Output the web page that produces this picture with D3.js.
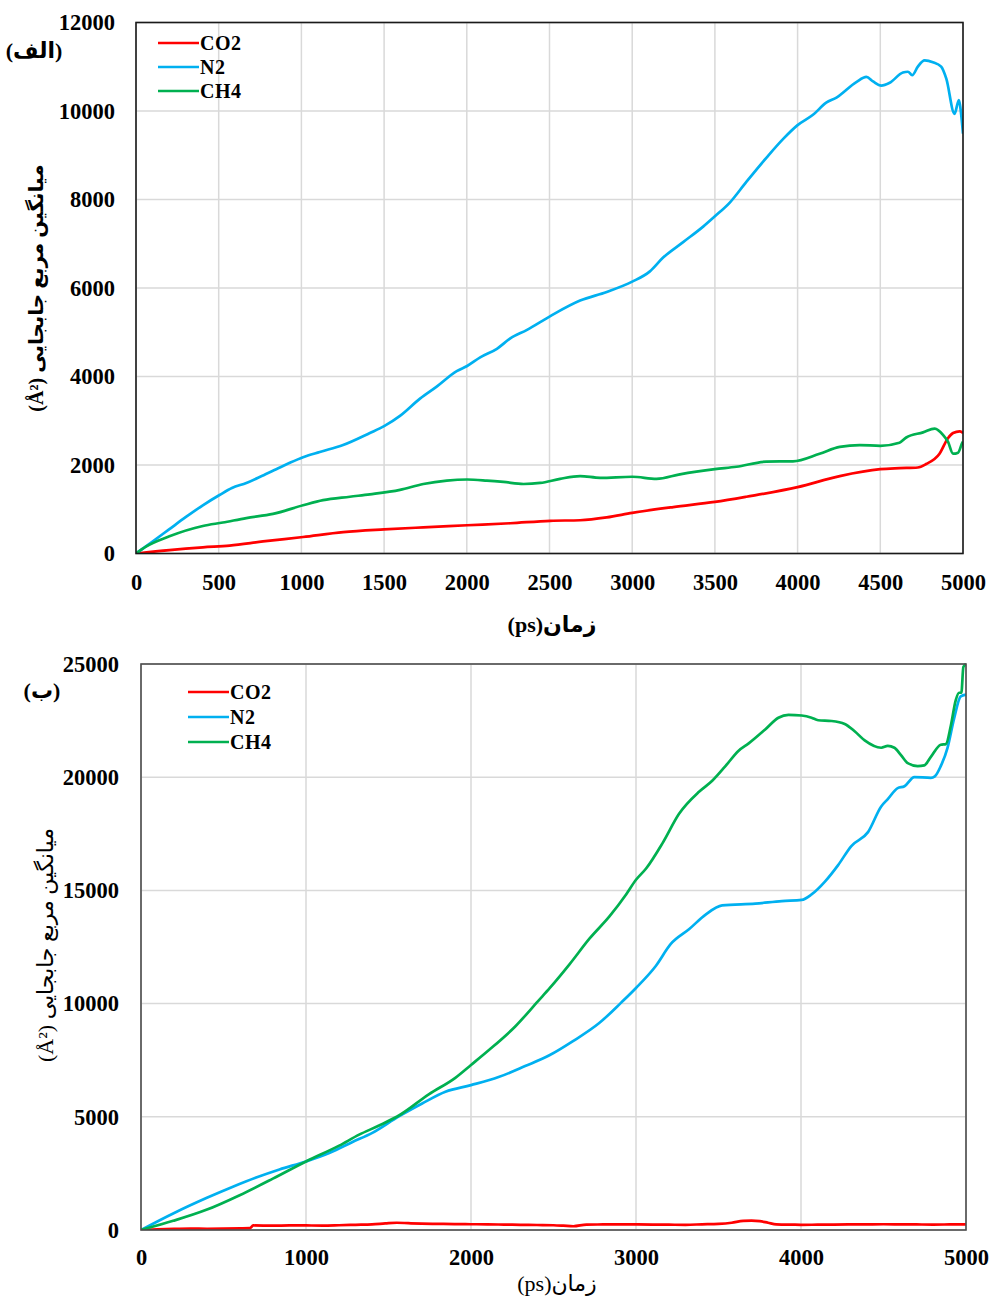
<!DOCTYPE html>
<html>
<head>
<meta charset="utf-8">
<script src="https://cdn.jsdelivr.net/npm/d3@7"></script>
<style>
  html, body { margin: 0; padding: 0; background: #ffffff; }
  svg { display: block; }
  text { font-family: "Liberation Serif", "DejaVu Sans", serif; fill: #000; }
</style>
</head>
<body>
<svg id="chart" width="992" height="1298"></svg>
<script>
// Tick values for both panels
const timeTicksA = [0, 500, 1000, 1500, 2000, 2500, 3000, 3500, 4000, 4500, 5000];
const msdTicksA = [0, 2000, 4000, 6000, 8000, 10000, 12000];
const timeTicksB = [0, 1000, 2000, 3000, 4000, 5000];
const msdTicksB = [0, 5000, 10000, 15000, 20000, 25000];

const seriesNames = ["CO2", "N2", "CH4"];
const seriesColors = ["#ff0000", "#00b0f0", "#00b050"];

// Panel (الف): [time ps, MSD Å²]
const co2A = [[0,0],[202,78],[404,140],[566,179],[768,272],[1010,373],[1253,482],[1500,544],[1737,591],[2002,638],[2263,684],[2505,739],[2685,752],[2846,816],[3000,918],[3248,1050],[3500,1166],[3690,1283],[4000,1500],[4255,1750],[4500,1905],[4616,1928],[4727,1944],[4777,2022],[4858,2255],[4909,2605],[4940,2722],[4980,2760],[5000,2722]];
const n2A = [[0,0],[100,270],[200,545],[300,820],[404,1089],[505,1322],[580,1480],[667,1594],[760,1750],[848,1905],[930,2050],[1010,2177],[1111,2294],[1252,2450],[1414,2722],[1500,2877],[1596,3110],[1717,3500],[1818,3772],[1939,4121],[2002,4238],[2081,4432],[2182,4627],[2263,4860],[2364,5054],[2505,5365],[2685,5715],[2846,5910],[3000,6143],[3107,6376],[3187,6687],[3308,7037],[3429,7387],[3500,7620],[3590,7931],[3690,8398],[3811,8942],[3913,9370],[4000,9681],[4093,9914],[4173,10187],[4235,10303],[4355,10653],[4416,10770],[4456,10669],[4506,10575],[4557,10638],[4637,10871],[4667,10887],[4693,10809],[4727,11003],[4768,11143],[4818,11104],[4868,11003],[4899,10731],[4949,9937],[4975,10249],[4983,10109],[5000,9487]];
const ch4A = [[0,0],[60,155],[202,389],[404,622],[525,700],[667,801],[828,894],[1010,1089],[1131,1205],[1293,1283],[1414,1337],[1596,1439],[1737,1571],[1879,1648],[2002,1672],[2121,1648],[2222,1617],[2343,1571],[2444,1594],[2564,1687],[2685,1750],[2806,1711],[3000,1734],[3147,1687],[3288,1788],[3500,1905],[3630,1960],[3811,2076],[3972,2084],[4133,2255],[4255,2411],[4376,2449],[4500,2434],[4616,2504],[4657,2621],[4758,2737],[4829,2823],[4879,2683],[4909,2527],[4940,2255],[4970,2279],[4996,2504],[5000,2527]];

// Panel (ب): [time ps, MSD Å²]
const co2B = [[0,0],[100,30],[200,50],[300,60],[400,55],[500,60],[600,70],[660,80],[680,200],[800,190],[900,205],[1000,200],[1100,195],[1200,210],[1300,230],[1400,250],[1480,290],[1550,320],[1620,300],[1700,280],[1800,270],[1900,260],[2000,255],[2100,250],[2200,240],[2300,230],[2400,220],[2500,210],[2560,190],[2620,165],[2700,240],[2800,245],[2900,250],[3000,245],[3100,240],[3200,235],[3300,230],[3400,250],[3500,270],[3580,320],[3650,400],[3700,410],[3750,390],[3800,320],[3850,250],[3950,235],[4000,230],[4100,235],[4200,240],[4300,245],[4400,250],[4500,255],[4600,250],[4700,245],[4800,240],[4900,245],[5000,250]];
const n2B = [[0,0],[195,729],[396,1409],[557,1911],[698,2316],[839,2673],[1000,3029],[1141,3401],[1282,3887],[1402,4292],[1563,5021],[1704,5588],[1845,6106],[2000,6398],[2167,6754],[2328,7240],[2478,7727],[2618,8342],[2779,9152],[2910,10043],[3000,10691],[3120,11663],[3211,12634],[3321,13282],[3422,13930],[3522,14335],[3723,14416],[3884,14530],[4004,14578],[4064,14821],[4145,15388],[4225,16117],[4305,16959],[4406,17574],[4486,18708],[4526,19032],[4586,19518],[4627,19599],[4687,20004],[4787,19972],[4811,20036],[4847,20489],[4888,21299],[4928,22595],[4968,23567],[5000,23648]];
const ch4B = [[0,0],[195,405],[396,891],[598,1539],[799,2268],[1000,3029],[1201,3725],[1322,4211],[1443,4616],[1573,5102],[1744,5993],[1905,6722],[2000,7289],[2107,7937],[2268,8990],[2408,10124],[2478,10691],[2598,11744],[2719,12878],[2839,13850],[2940,14821],[3000,15469],[3060,15955],[3161,17089],[3261,18385],[3382,19356],[3462,19842],[3542,20490],[3622,21170],[3683,21494],[3783,22109],[3863,22628],[3924,22757],[4004,22725],[4064,22628],[4104,22515],[4185,22482],[4265,22353],[4325,22029],[4386,21624],[4486,21300],[4526,21381],[4566,21300],[4606,20976],[4647,20620],[4707,20490],[4747,20522],[4787,20895],[4847,21430],[4878,21462],[4908,22272],[4938,23406],[4958,23730],[4972,23730],[4984,24864],[5000,25000]];

const yTitle = "میانگین مربع جابجایی (Å²)";
const xTitle = "زمان(ps)";

const svg = d3.select("#chart");

function drawPanel(cfg) {
  const g = svg.append("g");
  const x = d3.scaleLinear().domain([0, 5000]).range([cfg.left, cfg.right]);
  const y = d3.scaleLinear().domain([0, cfg.yMax]).range([cfg.bottom, cfg.top]);

  // gridlines
  g.append("g").selectAll("line").data(cfg.xTicks).join("line")
    .attr("x1", d => x(d)).attr("x2", d => x(d))
    .attr("y1", cfg.top).attr("y2", cfg.bottom)
    .attr("stroke", "#d9d9d9").attr("stroke-width", 1.5);
  g.append("g").selectAll("line").data(cfg.yTicks).join("line")
    .attr("x1", cfg.left).attr("x2", cfg.right)
    .attr("y1", d => y(d)).attr("y2", d => y(d))
    .attr("stroke", "#d9d9d9").attr("stroke-width", 1.5);

  // series
  const clipId = "clip" + cfg.id;
  svg.append("clipPath").attr("id", clipId).append("rect")
    .attr("x", cfg.left).attr("y", cfg.top - 1)
    .attr("width", cfg.right - cfg.left).attr("height", cfg.bottom - cfg.top + 1);
  const line = d3.line().curve(d3.curveMonotoneX).x(d => x(d[0])).y(d => y(d[1]));
  const lines = g.append("g").attr("clip-path", `url(#${clipId})`);
  cfg.series.forEach((s, i) => {
    lines.append("path").datum(s)
      .attr("d", line)
      .attr("fill", "none")
      .attr("stroke", seriesColors[i])
      .attr("stroke-width", 2.7)
      .attr("stroke-linejoin", "round");
  });

  // frame
  g.append("rect")
    .attr("x", cfg.left).attr("y", cfg.top)
    .attr("width", cfg.right - cfg.left).attr("height", cfg.bottom - cfg.top)
    .attr("fill", "none").attr("stroke", cfg.frame).attr("stroke-width", 1.6);

  // axes (labels only, domain and tick marks hidden)
  const xAxis = g.append("g").attr("transform", `translate(0,${cfg.bottom})`)
    .call(d3.axisBottom(x).tickValues(cfg.xTicks).tickFormat(d3.format("d")).tickSize(0).tickPadding(cfg.xPad));
  const yAxis = g.append("g").attr("transform", `translate(${cfg.left},0)`)
    .call(d3.axisLeft(y).tickValues(cfg.yTicks).tickFormat(d3.format("d")).tickSize(0).tickPadding(cfg.yPad));
  [xAxis, yAxis].forEach(a => {
    a.select(".domain").remove();
    a.selectAll("text")
      .attr("font-family", "Liberation Serif, serif")
      .attr("font-weight", "bold")
      .attr("font-size", 22.5)
      .attr("fill", "#000");
  });

  // legend
  const leg = g.append("g");
  seriesNames.forEach((name, i) => {
    const ly = cfg.legY + i * cfg.legStep;
    leg.append("line")
      .attr("x1", cfg.legX).attr("x2", cfg.legX + 41)
      .attr("y1", ly).attr("y2", ly)
      .attr("stroke", seriesColors[i]).attr("stroke-width", 2.7);
    leg.append("text")
      .attr("x", cfg.legX + 42).attr("y", ly + 7)
      .attr("font-weight", "bold").attr("font-size", 20)
      .attr("letter-spacing", 0.5)
      .text(name);
  });

  // panel tag
  g.append("text")
    .attr("x", cfg.tagX).attr("y", cfg.tagY)
    .attr("text-anchor", "middle").attr("direction", "rtl")
    .attr("font-weight", "bold").attr("font-size", 22)
    .text(cfg.tag);

  // axis titles
  g.append("text")
    .attr("transform", `translate(${cfg.yTitleX},${cfg.yTitleY}) rotate(-90)`)
    .attr("text-anchor", "middle").attr("direction", "rtl")
    .attr("font-weight", cfg.titleWeight).attr("font-size", cfg.yTitleSize)
    .text(yTitle);
  g.append("text")
    .attr("x", cfg.xTitleX).attr("y", cfg.xTitleY)
    .attr("text-anchor", "middle").attr("direction", "rtl")
    .attr("font-weight", cfg.titleWeight).attr("font-size", 22)
    .text(xTitle);
}

drawPanel({
  id: "A", left: 136, right: 963, top: 22.5, bottom: 553.5, yMax: 12000,
  xTicks: timeTicksA, yTicks: msdTicksA, series: [co2A, n2A, ch4A],
  frame: "#1a1a1a", xPad: 21, yPad: 21,
  legX: 158, legY: 43, legStep: 24,
  tag: "(الف)", tagX: 34, tagY: 58,
  yTitleX: 43, yTitleY: 288, yTitleSize: 20,
  xTitleX: 552, xTitleY: 632, titleWeight: "bold"
});

drawPanel({
  id: "B", left: 141, right: 966, top: 664, bottom: 1230, yMax: 25000,
  xTicks: timeTicksB, yTicks: msdTicksB, series: [co2B, n2B, ch4B],
  frame: "#4d4d4d", xPad: 19, yPad: 22,
  legX: 188, legY: 692, legStep: 25,
  tag: "(ب)", tagX: 42, tagY: 698,
  yTitleX: 53, yTitleY: 945, yTitleSize: 22,
  xTitleX: 557, xTitleY: 1291, titleWeight: "normal"
});
</script>
</body>
</html>
